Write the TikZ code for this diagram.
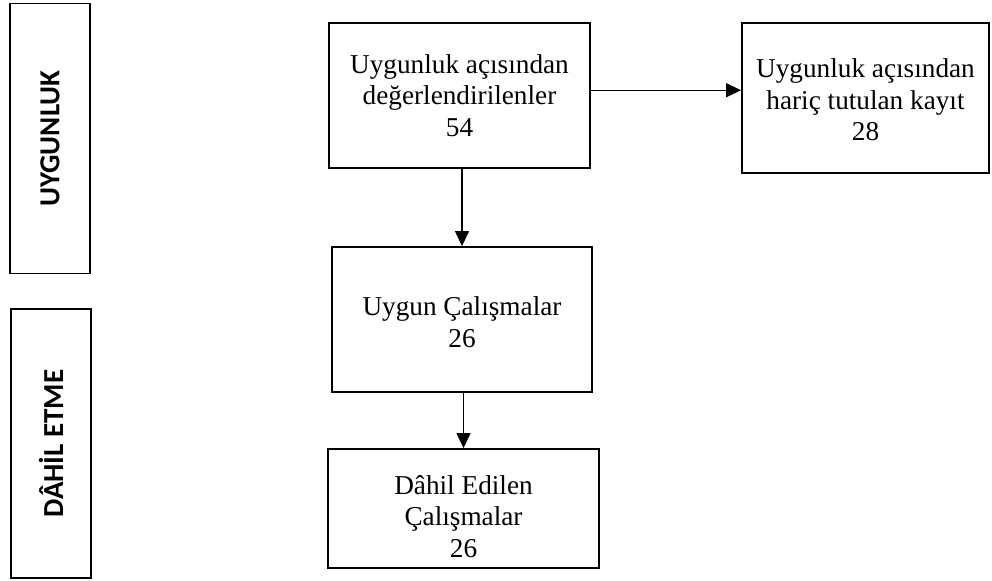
\documentclass[tikz,border=0pt]{standalone}
\usepackage{fontspec}
\setmainfont{Liberation Serif}
\newfontfamily\labfont{Carlito}
\usetikzlibrary{arrows.meta,positioning}

\tikzset{
  box/.style={draw,line width=1.1pt,align=center,inner sep=2pt,
    font=\fontsize{15.5}{18}\selectfont},
  phase/.style={draw,line width=1.1pt,rotate=90,minimum width=5.4cm,
    minimum height=1.6cm,font=\labfont\bfseries\fontsize{16.5}{18}\selectfont},
  arr/.style={-{Triangle[length=8.5pt,width=8pt]},line width=0.6pt}
}

\begin{document}
\begin{tikzpicture}
  \useasboundingbox (0,0) rectangle (19.84,-11.6);

  % PHASES
  \node[phase] (uyg) at (1.0,-2.77) {UYGUNLUK};
  \node[phase,minimum width=5.38cm] (dhl) at (1.02,-8.87) {DÂHİL ETME};

  % BOXES
  \node[box,minimum width=5.22cm,minimum height=2.9cm] (deg) at (9.19,-1.91)
    {Uygunluk açısından\\değerlendirilenler\\54};
  \node[box,minimum width=4.94cm,minimum height=3.0cm] (har) at (17.31,-1.96)
    {\\[-5pt]Uygunluk açısından\\hariç tutulan kayıt\\28};
  \node[box,minimum width=5.2cm,minimum height=2.9cm] (uyc) at (9.24,-6.39)
    {\\[-4pt]Uygun Çalışmalar\\26};
  \node[box,minimum width=5.42cm,minimum height=2.38cm] (dah) at (9.27,-10.17)
    {\\[2pt]Dâhil Edilen\\Çalışmalar\\26};

  % ARROWS
  \draw[arr] ([yshift=3pt]deg.east) -- ([yshift=3pt]deg.east -| har.west);
  \draw[arr] (deg.south -| uyc.north) -- (uyc.north);
  \draw[arr] (uyc.south -| dah.north) -- (dah.north);

\end{tikzpicture}
\end{document}
